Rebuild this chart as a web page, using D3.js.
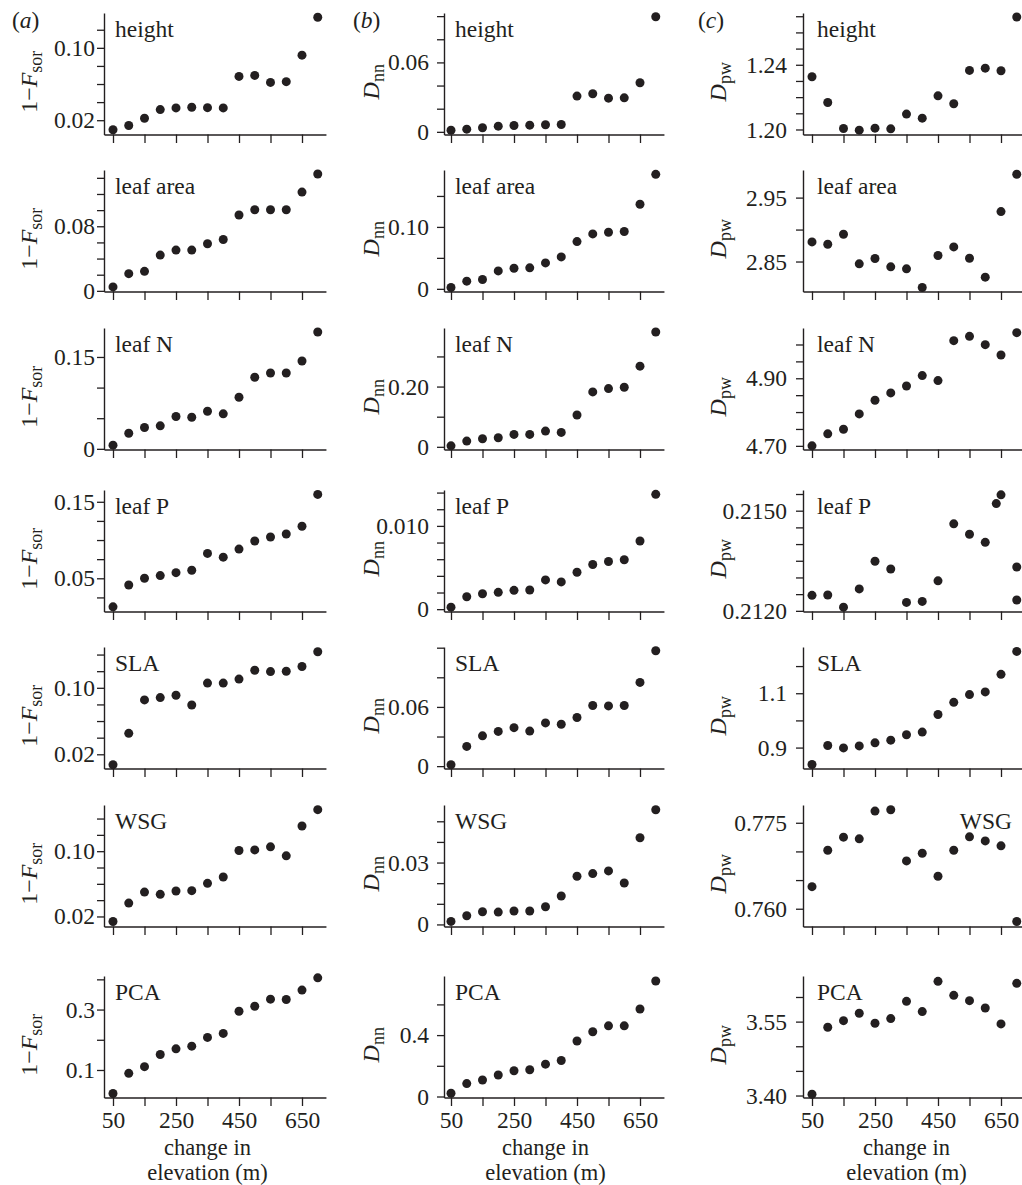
<!DOCTYPE html>
<html><head><meta charset="utf-8">
<script src="https://cdn.jsdelivr.net/npm/d3@7"></script>
<style>body{margin:0;background:#fff}</style>
</head><body>
<svg id="chart" width="1022" height="1185"></svg>
<script>
// ---------- data ----------
const elevation = [50,100,150,200,250,300,350,400,450,500,550,600,650,700];
const elevationLeafPDpw = [50,100,150,200,250,300,350,400,450,500,550,600,635,650,700,700];
const xTickValues = [50,150,250,350,450,550,650];
const xTickLabels = ["50","250","450","650"];
const traits = ["height","leaf area","leaf N","leaf P","SLA","WSG","PCA"];

// (a) 1 - F_sor
const fsorValues = [
  [0.0094,0.0141,0.0222,0.0317,0.0336,0.0343,0.0339,0.0336,0.0684,0.0695,0.0618,0.0626,0.0919,0.1338],
  [0.0049,0.0213,0.0242,0.0443,0.0505,0.0505,0.0583,0.0636,0.0939,0.1005,0.1005,0.1005,0.1223,0.1448],
  [0.0060,0.0255,0.0348,0.0375,0.0527,0.0516,0.0614,0.0571,0.0842,0.1168,0.1239,0.1239,0.1435,0.1908],
  [0.0127,0.0412,0.0500,0.0535,0.0574,0.0605,0.0825,0.0776,0.0882,0.0987,0.1039,0.1079,0.1180,0.1596],
  [0.0074,0.0452,0.0854,0.0882,0.0910,0.0793,0.1057,0.1057,0.1105,0.1211,0.1195,0.1199,0.1256,0.1434],
  [0.0138,0.0364,0.0499,0.0471,0.0512,0.0516,0.0606,0.0684,0.1008,0.1016,0.1053,0.0943,0.1308,0.1509],
  [0.0222,0.0889,0.1111,0.1511,0.1700,0.1789,0.2078,0.2211,0.2944,0.3111,0.3344,0.3333,0.3644,0.4050]
];
const fsorDomains = [[0.0042,0.1385],[-0.0008,0.1497],[-0.0011,0.1973],[0.0066,0.1654],[0.0029,0.1491],[0.0077,0.1566],[0.0089,0.4111]];
const fsorTicks = [
  [0.02,0.04,0.06,0.08,0.10,0.12],
  [0,0.02,0.04,0.06,0.08,0.10,0.12,0.14],
  [0,0.05,0.10,0.15],
  [0.025,0.05,0.075,0.10,0.125,0.15],
  [0.02,0.04,0.06,0.08,0.10,0.12,0.14],
  [0.02,0.04,0.06,0.08,0.10,0.12,0.14],
  [0.1,0.2,0.3,0.4]
];
const fsorTickLabels = [["0.02","0.10"],["0","0.08"],["0","0.15"],["0.05","0.15"],["0.02","0.10"],["0.02","0.10"],["0.1","0.3"]];

// (b) D_nn
const dnnValues = [
  [0.0014,0.0023,0.0035,0.0049,0.0055,0.0058,0.0061,0.0063,0.0309,0.0329,0.0291,0.0294,0.0424,0.0995],
  [0.0022,0.0124,0.0151,0.0290,0.0333,0.0339,0.0419,0.0516,0.0763,0.0887,0.0914,0.0925,0.1366,0.1849],
  [0.0033,0.0189,0.0267,0.0300,0.0411,0.0411,0.0522,0.0478,0.1056,0.1822,0.1933,0.1978,0.2678,0.3811],
  [0.00024,0.00149,0.00185,0.00202,0.00226,0.0023,0.00351,0.00327,0.00444,0.00536,0.00573,0.00593,0.00819,0.01379],
  [0.0014,0.0200,0.0307,0.0352,0.0390,0.0355,0.0438,0.0424,0.0493,0.0614,0.0610,0.0614,0.0848,0.1169],
  [0.00146,0.00422,0.00616,0.0060,0.00649,0.00649,0.0086,0.01378,0.02335,0.02465,0.02595,0.02011,0.0420,0.05562],
  [0.0215,0.0839,0.1075,0.1398,0.1677,0.1742,0.2108,0.2344,0.3613,0.4215,0.4602,0.4602,0.5699,0.7527]
];
const dnnDomains = [[-0.0023,0.1027],[-0.0043,0.1919],[-0.0089,0.3944],[-0.00028,0.01431],[-0.0024,0.1207],[-0.001,0.0579],[-0.0065,0.785]];
const dnnTicks = [
  [0,0.02,0.04,0.06,0.08,0.10],
  [0,0.05,0.10,0.15],
  [0,0.1,0.2,0.3],
  [0,0.002,0.004,0.006,0.008,0.010,0.012,0.014],
  [0,0.03,0.06,0.09,0.12],
  [0,0.01,0.02,0.03,0.04,0.05],
  [0,0.2,0.4,0.6]
];
const dnnTickLabels = [["0","0.06"],["0","0.10"],["0","0.20"],["0","0.010"],["0","0.06"],["0","0.03"],["0","0.4"]];

// (c) D_pw
const dpwValues = [
  [1.2326,1.2167,1.2006,1.1996,1.2008,1.2004,1.2095,1.2070,1.2208,1.2159,1.2365,1.2379,1.2363,1.2695],
  [2.8807,2.8771,2.8927,2.8464,2.8547,2.8417,2.8385,2.8094,2.8594,2.8729,2.8552,2.8255,2.9281,2.9865],
  [4.7000,4.7355,4.7493,4.7946,4.8350,4.8567,4.8773,4.9079,4.8931,5.0113,5.0241,4.9995,4.9690,5.0350],
  [0.212465,0.212475,0.212111,0.212657,0.213485,0.213253,0.212253,0.212283,0.212899,0.214606,0.214293,0.214051,0.215212,0.215475,0.213313,0.212323],
  [0.8379,0.9075,0.8988,0.9062,0.9174,0.9273,0.9472,0.9571,1.0217,1.0665,1.0950,1.1050,1.1696,1.2540],
  [0.76385,0.77021,0.77249,0.7722,0.77704,0.77727,0.76834,0.76969,0.76566,0.77021,0.77254,0.77184,0.77097,0.75778],
  [3.4027,3.5385,3.5520,3.5669,3.5466,3.5561,3.5912,3.5703,3.6318,3.6034,3.5926,3.5777,3.5453,3.6277]
];
const dpwDomains = [[1.1969,1.2720],[2.8031,2.9932],[4.6892,5.0488],[0.21198,0.21562],[0.823,1.2702],[0.7569,0.7781],[3.396,3.6426]];
const dpwTicks = [
  [1.20,1.21,1.22,1.23,1.24,1.25,1.26,1.27],
  [2.85,2.90,2.95],
  [4.70,4.75,4.80,4.85,4.90,4.95,5.00],
  [0.2120,0.2125,0.2130,0.2135,0.2140,0.2145,0.2150,0.2155],
  [0.9,1.0,1.1,1.2],
  [0.760,0.765,0.770,0.775],
  [3.40,3.45,3.50,3.55,3.60]
];
const dpwTickLabels = [["1.20","1.24"],["2.85","2.95"],["4.70","4.90"],["0.2120","0.2150"],["0.9","1.1"],["0.760","0.775"],["3.40","3.55"]];

// ---------- layout ----------
const svg = d3.select("#chart");
const FONT = "'Liberation Serif','Times New Roman',Times,serif";
const INK = "#231f20";
const FS = 23.5;
const rowTops = [13,170,328,490,647,805,976];
const rowH = 121.5;
const pxPer600 = 189;
const xMaxVal = 726;

const columns = [
  {letter:"a", letterX:12, axisX:104, x50:113, values:fsorValues, domains:fsorDomains, ticks:fsorTicks, labels:fsorTickLabels,
   pre:"1\u2212", main:"F", sub:"sor", titleX:37, traitDx:11, pad:2},
  {letter:"b", letterX:353, axisX:444, x50:451, values:dnnValues, domains:dnnDomains, ticks:dnnTicks, labels:dnnTickLabels,
   pre:"", main:"D", sub:"nn", titleX:379, traitDx:11, pad:8},
  {letter:"c", letterX:698, axisX:803, x50:812, values:dpwValues, domains:dpwDomains, ticks:dpwTicks, labels:dpwTickLabels,
   pre:"", main:"D", sub:"pw", titleX:726, traitDx:14, pad:9}
];

columns.forEach(col => {
  // panel letter
  const lt = svg.append("text").attr("x", col.letterX).attr("y", 28)
    .attr("font-family", FONT).attr("font-size", FS).attr("fill", INK);
  lt.append("tspan").text("(");
  lt.append("tspan").attr("font-style","italic").text(col.letter);
  lt.append("tspan").text(")");

  const k = pxPer600 / 600;
  const xMinVal = 50 - (col.x50 - col.axisX) / k;
  const x = d3.scaleLinear().domain([xMinVal, xMaxVal])
    .range([col.axisX, col.x50 + (xMaxVal - 50) * k]);

  traits.forEach((trait, r) => {
    const top = rowTops[r], base = top + rowH;
    const y = d3.scaleLinear().domain(col.domains[r]).range([base, top]);
    const g = svg.append("g");

    const xAxis = d3.axisBottom(x).tickValues(xTickValues).tickSize(8.5).tickSizeOuter(0).tickPadding(5.3)
      .tickFormat(d => (r === traits.length - 1 && xTickLabels.includes(String(d))) ? String(d) : "");
    const gx = g.append("g").attr("transform", `translate(0,${base})`).call(xAxis);

    const labs = col.labels[r];
    const yAxis = d3.axisLeft(y).tickValues(col.ticks[r]).tickSize(7).tickSizeOuter(0).tickPadding(col.pad)
      .tickFormat(d => { const m = labs.find(s => Math.abs(+s - d) < 1e-9); return m ? m : ""; });
    const gy = g.append("g").attr("transform", `translate(${col.axisX},0)`).call(yAxis);

    [gx, gy].forEach(ax => {
      ax.select(".domain").attr("stroke", INK).attr("stroke-width", 1.4);
      ax.selectAll(".tick line").attr("stroke", INK).attr("stroke-width", 1.3);
      ax.selectAll(".tick text").attr("font-family", FONT).attr("font-size", FS).attr("fill", INK);
    });

    // points
    const xs = (col.letter === "c" && trait === "leaf P") ? elevationLeafPDpw : elevation;
    const pts = col.values[r].map((v, i) => ({e: xs[i], v}));
    g.selectAll("circle").data(pts).join("circle")
      .attr("cx", d => x(d.e)).attr("cy", d => y(d.v)).attr("r", 4.5).attr("fill", INK);

    // trait label
    const right = (col.letter === "c" && trait === "WSG");
    g.append("text")
      .attr("x", right ? 1012 : col.axisX + col.traitDx)
      .attr("y", top + 24)
      .attr("text-anchor", right ? "end" : "start")
      .attr("font-family", FONT).attr("font-size", FS).attr("fill", INK)
      .text(trait);

    // y title
    const yt = g.append("text")
      .attr("transform", `translate(${col.titleX},${top + rowH / 2 + 8}) rotate(-90)`)
      .attr("text-anchor", "middle")
      .attr("font-family", FONT).attr("font-size", 24).attr("fill", INK);
    if (col.pre) yt.append("tspan").text(col.pre);
    yt.append("tspan").attr("font-style", "italic").text(col.main);
    yt.append("tspan").attr("font-size", 18).attr("dy", 5).text(col.sub);

    // x title on bottom row (two lines)
    if (r === traits.length - 1) {
      const cx = (x(50) + x(650)) / 2;
      g.append("text").attr("x", cx).attr("y", 1154.5).attr("text-anchor", "middle")
        .attr("font-family", FONT).attr("font-size", 22.5).attr("fill", INK).text("change in");
      g.append("text").attr("x", cx).attr("y", 1180).attr("text-anchor", "middle")
        .attr("font-family", FONT).attr("font-size", 22.5).attr("fill", INK).text("elevation (m)");
    }
  });
});
</script>
</body></html>
